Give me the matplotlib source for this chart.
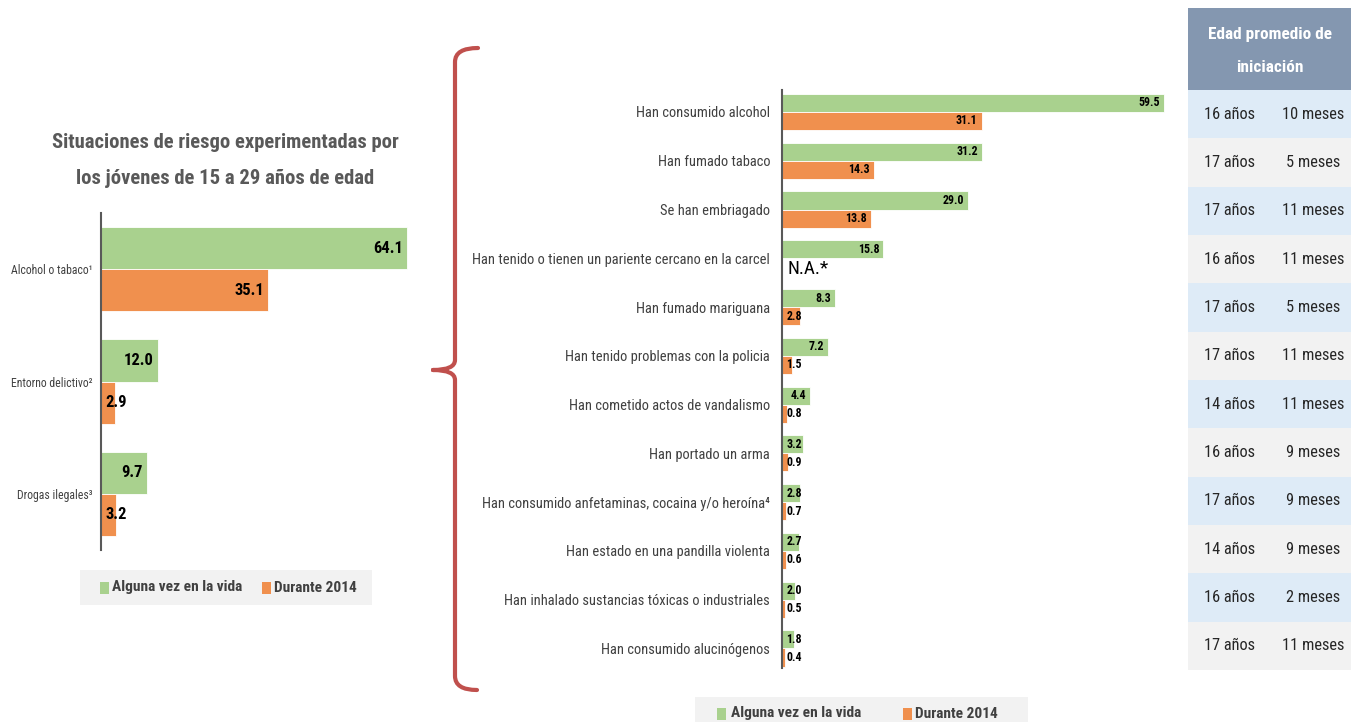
import numpy as np
import matplotlib
matplotlib.use('Agg')
import matplotlib.pyplot as plt
from matplotlib import font_manager as fm
from matplotlib.patches import Rectangle, PathPatch
from matplotlib.path import Path

# pick a narrow face if one is around (the reference uses a Calibri-like font)
STRETCH = 'normal'
FAMILY = ['DejaVu Sans']
for f in fm.fontManager.ttflist:
    if f.name in ('Liberation Sans Narrow', 'Roboto Condensed', 'Open Sans Condensed'):
        FAMILY = [f.name, 'DejaVu Sans']
        break
else:
    if any('Condensed' in f.fname and f.name == 'DejaVu Sans' for f in fm.fontManager.ttflist):
        STRETCH = 'condensed'
plt.rcParams['font.family'] = FAMILY
plt.rcParams['font.stretch'] = STRETCH

GREEN = '#a9d18e'
ORANGE = '#f0904e'
GREY_TXT = '#404040'

# left chart data
left_cats = ['Alcohol o tabaco¹', 'Entorno delictivo²', 'Drogas ilegales³']
left_vida = [64.1, 12.0, 9.7]
left_2014 = [35.1, 2.9, 3.2]

# right chart data
right_cats = ['Han consumido alcohol', 'Han fumado tabaco', 'Se han embriagado',
              'Han tenido o tienen un pariente cercano en la carcel',
              'Han fumado mariguana', 'Han tenido problemas con la policia',
              'Han cometido actos de vandalismo', 'Han portado un arma',
              'Han consumido anfetaminas, cocaina y/o heroína⁴',
              'Han estado en una pandilla violenta',
              'Han inhalado sustancias tóxicas o industriales',
              'Han consumido alucinógenos']
right_vida = [59.5, 31.2, 29.0, 15.8, 8.3, 7.2, 4.4, 3.2, 2.8, 2.7, 2.0, 1.8]
right_2014 = [31.1, 14.3, 13.8, np.nan, 2.8, 1.5, 0.8, 0.9, 0.7, 0.6, 0.5, 0.4]

# average age of initiation table
edad_anos = ['16 años', '17 años', '17 años', '16 años', '17 años', '17 años',
             '14 años', '16 años', '17 años', '14 años', '16 años', '17 años']
edad_meses = ['10 meses', '5 meses', '11 meses', '11 meses', '5 meses', '11 meses',
              '11 meses', '9 meses', '9 meses', '9 meses', '2 meses', '11 meses']

W, H = 1351, 722
fig = plt.figure(figsize=(W / 100, H / 100), dpi=100)
renderer = fig.canvas.get_renderer()


def fit(text, target_px, weight='normal', boost=1.08):
    """font size that makes text about target_px wide (boost: glyphs a bit taller)"""
    t = fig.text(0, 0, text, fontsize=10, fontweight=weight)
    w = t.get_window_extent(renderer).width
    t.remove()
    return 10 * target_px / w * boost


FS_TITLE = fit('Situaciones de riesgo experimentadas por', 322, 'bold')
FS_LCAT = fit('Alcohol o tabaco¹', 76)
FS_RCAT = fit('Han consumido alcohol', 125)
FS_LVAL = fit('64.1', 28, 'bold')
FS_RVAL = fit('59.5', 20, 'bold')
FS_LEG = fit('Alguna vez en la vida', 130, 'bold', boost=1.0)
FS_TAB = fit('10 meses', 57)
FS_HEAD = fit('Edad promedio de', 115, 'bold')
FS_NA = fit('N.A.*', 38)


def fx(x):
    return x / W


def fy(y):
    return 1 - y / H


def make_axes(left, top, right, bottom):
    return fig.add_axes([fx(left), fy(bottom), fx(right) - fx(left), (bottom - top) / H])


def draw_bars(ax, cats, vida, d2014, bh, fs, lab_fs, pad):
    y = np.arange(len(cats))
    ax.barh(y - bh / 2, vida, height=bh, color=GREEN, edgecolor='white', linewidth=0.6)
    ax.barh(y + bh / 2, d2014, height=bh, color=ORANGE, edgecolor='white', linewidth=0.6)
    ax.set_yticks(y)
    ax.set_yticklabels(cats, fontsize=lab_fs, color=GREY_TXT)
    ax.tick_params(axis='y', length=0, pad=pad)
    ax.set_xticks([])
    for s in ['top', 'right', 'bottom']:
        ax.spines[s].set_visible(False)
    ax.spines['left'].set_color('#595959')
    ax.spines['left'].set_linewidth(1.5)

    for vals, off in [(vida, -bh / 2), (d2014, bh / 2)]:
        for i, v in enumerate(vals):
            if np.isnan(v):
                continue
            t = ax.annotate(f'{v:.1f}', (v, i + off), xytext=(-3, 0),
                            textcoords='offset points', ha='right', va='center',
                            fontsize=fs, fontweight='bold', color='black')
            bb = t.get_window_extent(renderer)
            x0 = ax.transData.transform((0, 0))[0]
            if bb.x0 < x0 + 4:
                t.remove()
                ax.annotate(f'{v:.1f}', (0, i + off), xytext=(3, 0),
                            textcoords='offset points', ha='left', va='center',
                            fontsize=fs, fontweight='bold', color='black')


# left chart
axl = make_axes(101, 213, 435, 550)
axl.set_xlim(0, 70)
axl.set_ylim(2.5, -0.5)
draw_bars(axl, left_cats, left_vida, left_2014, 0.375, FS_LVAL, FS_LCAT, 6)

fig.text(fx(225), fy(143), 'Situaciones de riesgo experimentadas por',
         ha='center', va='center', fontsize=FS_TITLE, fontweight='bold', color='#595959')
fig.text(fx(225), fy(178), 'los jóvenes de 15 a 29 años de edad',
         ha='center', va='center', fontsize=FS_TITLE, fontweight='bold', color='#595959')

# right chart
axr = make_axes(782, 90, 1180, 668)
axr.set_xlim(0, 62)
axr.set_ylim(11.4, -0.45)
draw_bars(axr, right_cats, right_vida, right_2014, 0.37, FS_RVAL, FS_RCAT, 8.5)
for i, v in enumerate(right_2014):
    if np.isnan(v):
        axr.annotate('N.A.*', (0, i + 0.185), xytext=(4, -1), textcoords='offset points',
                     ha='left', va='center', fontsize=FS_NA, color='black')


# legends
def legend_box(x0, y0, x1, y1, items):
    fig.patches.append(Rectangle((fx(x0), fy(y1)), fx(x1) - fx(x0), (y1 - y0) / H,
                                 transform=fig.transFigure, facecolor='#f2f2f2',
                                 edgecolor='none'))
    yc = (y0 + y1) / 2
    for sx, tx, col, lab in items:
        fig.patches.append(Rectangle((fx(sx), fy(yc + 6)), 9 / W, 12 / H,
                                     transform=fig.transFigure, facecolor=col,
                                     edgecolor='none'))
        fig.text(fx(tx), fy(yc), lab, ha='left', va='center', fontsize=FS_LEG,
                 fontweight='bold', color=GREY_TXT)


legend_box(80, 570, 372, 605, [(100, 112, GREEN, 'Alguna vez en la vida'),
                               (262, 274, ORANGE, 'Durante 2014')])
legend_box(695, 697, 1028, 730, [(717, 731, GREEN, 'Alguna vez en la vida'),
                                 (903, 915, ORANGE, 'Durante 2014')])

# brace
verts = [(478, 48), (455, 48), (455, 62), (455, 360), (455, 370), (433, 370),
         (433, 370), (455, 370), (455, 380), (455, 676), (455, 690), (477, 690)]
codes = [Path.MOVETO, Path.CURVE3, Path.CURVE3, Path.LINETO, Path.CURVE3, Path.CURVE3,
         Path.MOVETO, Path.CURVE3, Path.CURVE3, Path.LINETO, Path.CURVE3, Path.CURVE3]
brace = Path([(fx(a), fy(b)) for a, b in verts], codes)
fig.patches.append(PathPatch(brace, transform=fig.transFigure, facecolor='none',
                             edgecolor='#c0504d', linewidth=3, capstyle='round'))

# table
tx0, tx1 = 1188, 1351
fig.patches.append(Rectangle((fx(tx0), fy(90)), fx(tx1) - fx(tx0), 82 / H,
                             transform=fig.transFigure, facecolor='#8497b0',
                             edgecolor='none'))
fig.text(fx(1270), fy(35), 'Edad promedio de', ha='center', va='center',
         fontsize=FS_HEAD, fontweight='bold', color='white')
fig.text(fx(1270), fy(67), 'iniciación', ha='center', va='center',
         fontsize=FS_HEAD, fontweight='bold', color='white')
row_h = (670 - 90) / len(edad_anos)
for i, (a, m) in enumerate(zip(edad_anos, edad_meses)):
    top = 90 + i * row_h
    col = '#deebf7' if i % 2 == 0 else '#f2f2f2'
    fig.patches.append(Rectangle((fx(tx0), fy(top + row_h)), fx(tx1) - fx(tx0), row_h / H,
                                 transform=fig.transFigure, facecolor=col,
                                 edgecolor='none'))
    fig.text(fx(1230), fy(top + row_h / 2), a, ha='center', va='center',
             fontsize=FS_TAB, color='#262626')
    fig.text(fx(1313), fy(top + row_h / 2), m, ha='center', va='center',
             fontsize=FS_TAB, color='#262626')

fig.savefig('out.png', dpi=100)
